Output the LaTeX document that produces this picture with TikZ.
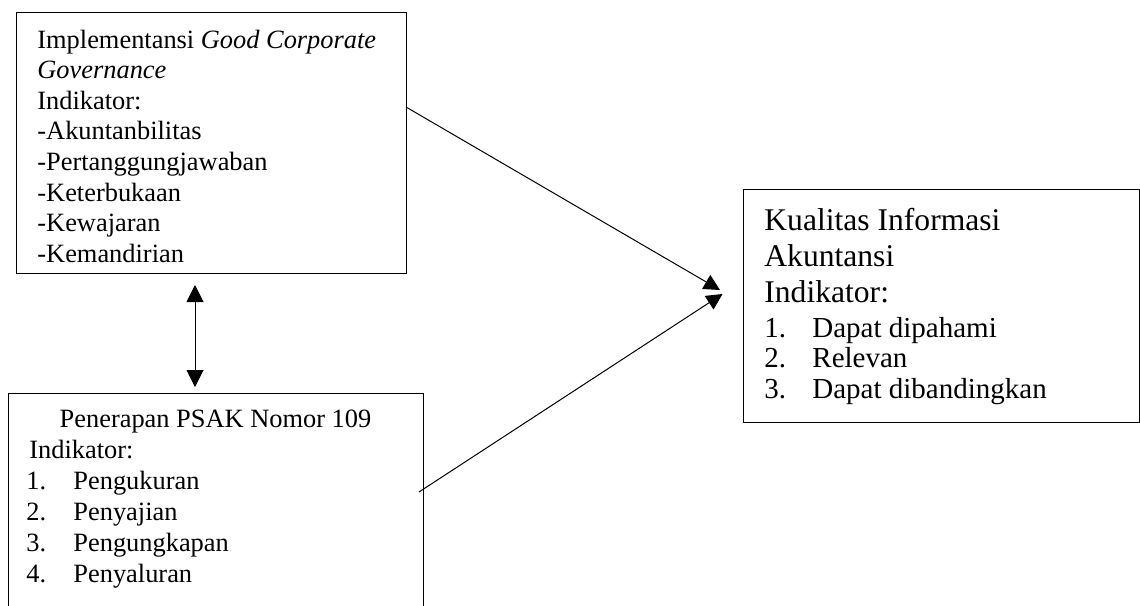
\documentclass[tikz,border=0pt]{standalone}
\usepackage{fontspec}
\setmainfont{Liberation Serif}
\usetikzlibrary{arrows.meta}
\begin{document}
\begin{tikzpicture}[x=0.5pt,y=-0.5pt,
  box/.style={draw, line width=0.65pt, rectangle, anchor=north west, inner sep=0pt},
  txt/.style={anchor=base west, inner sep=0pt, font=\fontsize{13.2}{15}\selectfont},
  ctxt/.style={anchor=base, inner sep=0pt, font=\fontsize{13.2}{15}\selectfont},
  bigtxt/.style={anchor=base west, inner sep=0pt, font=\fontsize{15.8}{18}\selectfont},
  midtxt/.style={anchor=base west, inner sep=0pt, font=\fontsize{14.5}{17}\selectfont},
  conn/.style={line width=0.5pt, -{Triangle[length=8pt,width=8pt]}},
  biconn/.style={line width=0.5pt, {Triangle[length=8.5pt,width=8.5pt]}-{Triangle[length=8.5pt,width=8.5pt]}},
]
\useasboundingbox (0,0) rectangle (1140,605);
\clip (0,0) rectangle (1140,605);

% boxes
\node[box, minimum width=195pt, minimum height=130.5pt] (gcg) at (16,12) {};
\node[box, minimum width=207.5pt, minimum height=125pt] (psak) at (8,393) {};
\node[box, minimum width=198pt, minimum height=116.5pt] (kia) at (743,189) {};

% box 1 text
\foreach \t [count=\i] in {{Implementansi \textit{Good Corporate}}, {\textit{Governance}}, {Indikator:}, {-Akuntanbilitas}, {-Pertanggungjawaban}, {-Keterbukaan}, {-Kewajaran}, {-Kemandirian}}
  \node[txt] (gcgl\i) at (37, {48+30.6*(\i-1)}) {\t};

% box 2 text
\node[ctxt] (psakt) at (215.5,427) {Penerapan PSAK Nomor 109};
\node[txt] (psaki) at (29,458) {Indikator:};
\foreach \t [count=\i] in {Pengukuran, Penyajian, Pengungkapan, Penyaluran}{
  \node[txt] (psakn\i) at (26, {489+31*(\i-1)}) {\i.};
  \node[txt] (psakl\i) at (73, {489+31*(\i-1)}) {\t};
}

% box 3 text
\node[bigtxt] (kia1) at (764,230) {Kualitas Informasi};
\node[bigtxt] (kia2) at (764,266.5) {Akuntansi};
\node[bigtxt] (kia3) at (764,302.5) {Indikator:};
\foreach \t [count=\i] in {Dapat dipahami, Relevan, Dapat dibandingkan}{
  \node[midtxt] (kian\i) at (764, {337.5+30.3*(\i-1)}) {\i.};
  \node[midtxt] (kial\i) at (812, {337.5+30.3*(\i-1)}) {\t};
}

% connectors
\coordinate (gcgout) at (406,107);
\coordinate (kiain1) at (720,290);
\coordinate (psakout) at (419,492);
\coordinate (kiain2) at (722.5,294);
\coordinate (bitop) at (195,285);
\coordinate (bibot) at (195,387);
\draw[conn] (gcgout) -- (kiain1);
\draw[conn] (psakout) -- (kiain2);
\draw[biconn] (bitop) -- (bibot);
\end{tikzpicture}
\end{document}
